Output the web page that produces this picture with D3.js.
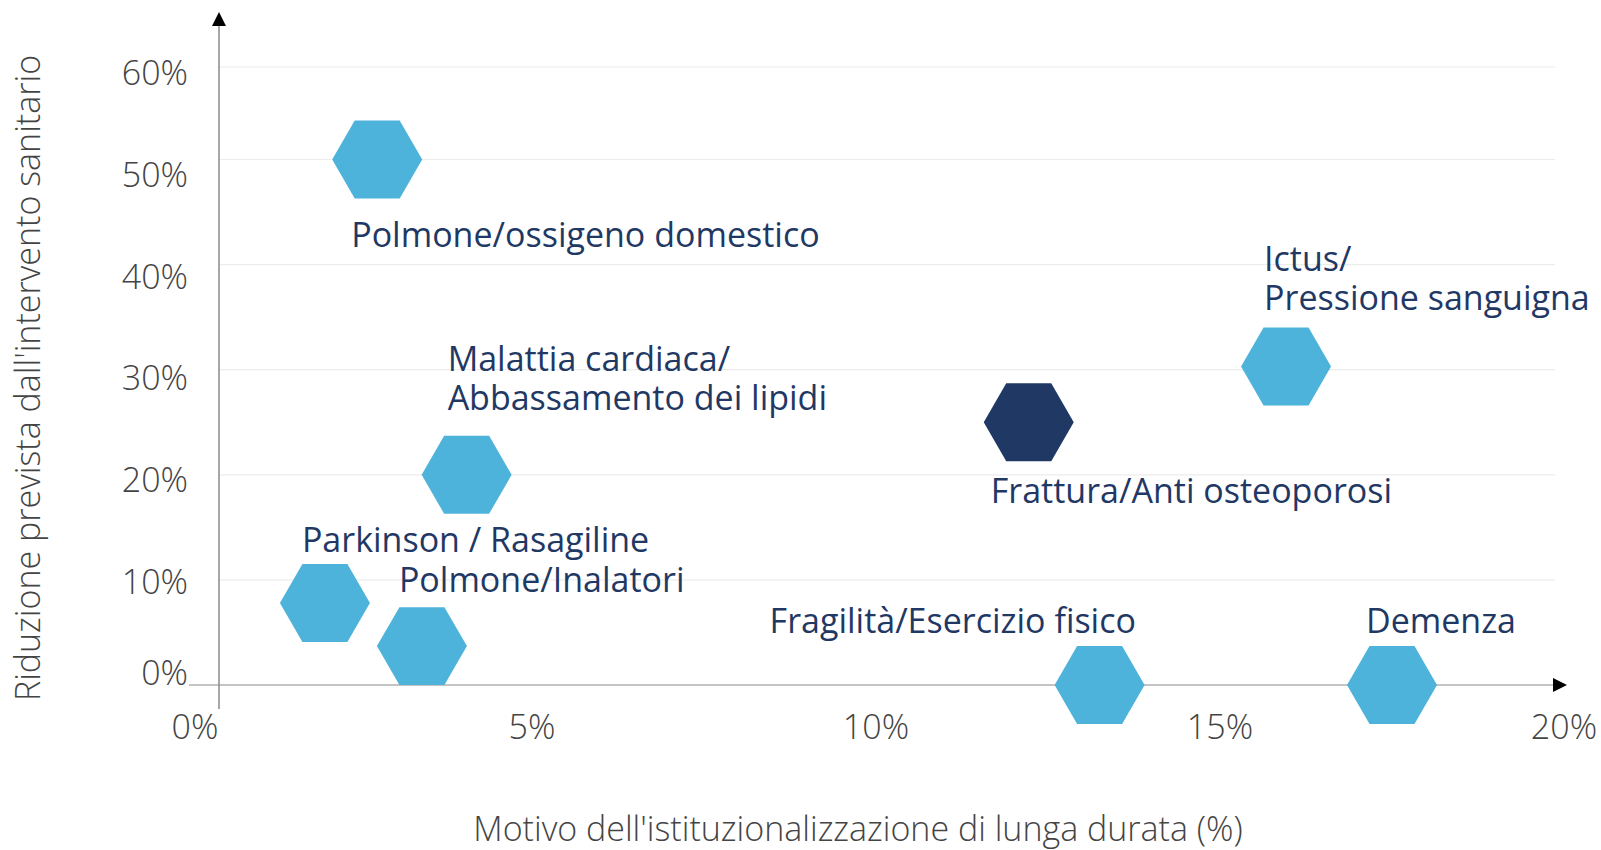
<!DOCTYPE html>
<html>
<head>
<meta charset="utf-8">
<script src="https://cdn.jsdelivr.net/npm/d3@7"></script>
<style>
  html, body { margin: 0; padding: 0; background: #ffffff; }
  svg { display: block; }
</style>
</head>
<body>
<svg id="chart" width="1601" height="850"></svg>
<script>
// ---- Data ----
const categories = [
  "Polmone/ossigeno domestico",
  "Malattia cardiaca/\nAbbassamento dei lipidi",
  "Parkinson / Rasagiline",
  "Polmone/Inalatori",
  "Frattura/Anti osteoporosi",
  "Ictus/\nPressione sanguigna",
  "Fragilità/Esercizio fisico",
  "Demenza"
];
// Motivo dell'istituzionalizzazione di lunga durata (x)
const institutionalisation = [0.0275, 0.0405, 0.0199, 0.0340, 0.1222, 0.1596, 0.1325, 0.1750];
// Riduzione prevista dall'intervento sanitario (y)
const reduction = [0.50, 0.20, 0.078, 0.037, 0.25, 0.303, 0.0, 0.0];
const highlighted = [false, false, false, false, true, false, false, false];

const xTicks = [0, 0.05, 0.10, 0.15, 0.20];
const yTicks = [0, 0.10, 0.20, 0.30, 0.40, 0.50, 0.60];
const xTickLabels = ["0%", "5%", "10%", "15%", "20%"];
const yTickLabels = ["0%", "10%", "20%", "30%", "40%", "50%", "60%"];
const xTitle = "Motivo dell'istituzionalizzazione di lunga durata (%)";
const yTitle = "Riduzione prevista dall'intervento sanitario";

// ---- Layout / style (not data) ----
const labelOffsets = [ // [dx, dy] of the label's first line relative to point
  [-26, 76],
  [-19, -116],
  [-23, -63],
  [-23, -66],
  [-38, 69],
  [-22, -107],
  [-330, -64],
  [-26, -64]
];
const lightBlue = "#4eb3db";
const navy = "#1f3864";
const textNavy = "#1f3864";
const fontFamily = "'Open Sans', 'Noto Sans', sans-serif";
const fontSize = 34;

const svg = d3.select("#chart");

const x = d3.scaleLinear().domain([0, 0.20]).range([188, 1564]);
const y = d3.scaleLinear().domain([0, 0.5, 0.6]).range([685, 159.5, 67]);
const yLabel = d3.scaleLinear().domain([0, 0.1, 0.6]).range([673, 582, 73]);

const axisX = 219;      // position of the vertical axis line
const gridRight = 1555;

// gridlines
svg.append("g").selectAll("line")
  .data(yTicks.filter(t => t > 0))
  .join("line")
  .attr("x1", axisX).attr("x2", gridRight)
  .attr("y1", d => y(d)).attr("y2", d => y(d))
  .attr("stroke", "#ececec").attr("stroke-width", 1.2);

// x axis line + arrow
svg.append("line")
  .attr("x1", 189).attr("x2", 1553)
  .attr("y1", y(0)).attr("y2", y(0))
  .attr("stroke", "#c4c4c4").attr("stroke-width", 2);
svg.append("path")
  .attr("d", `M1553,${y(0) - 7} L1567,${y(0)} L1553,${y(0) + 7} Z`)
  .attr("fill", "#000");

// y axis line + arrow
svg.append("line")
  .attr("x1", axisX).attr("x2", axisX)
  .attr("y1", 709).attr("y2", 25)
  .attr("stroke", "#8a8a8a").attr("stroke-width", 1.5);
svg.append("path")
  .attr("d", `M${axisX - 7},26 L${axisX},12 L${axisX + 7},26 Z`)
  .attr("fill", "#000");

// tick labels
svg.append("g").selectAll("text")
  .data(xTicks)
  .join("text")
  .attr("x", d => x(d) + (d === 0 ? 7 : 0))
  .attr("y", 727)
  .attr("dy", "0.35em")
  .attr("text-anchor", "middle")
  .attr("font-family", fontFamily)
  .attr("font-weight", 300)
  .attr("font-size", fontSize)
  .attr("fill", "#444")
  .text((d, i) => xTickLabels[i]);

svg.append("g").selectAll("text")
  .data(yTicks)
  .join("text")
  .attr("x", 188)
  .attr("y", d => yLabel(d))
  .attr("dy", "0.35em")
  .attr("text-anchor", "end")
  .attr("font-family", fontFamily)
  .attr("font-weight", 300)
  .attr("font-size", fontSize)
  .attr("fill", "#444")
  .text((d, i) => yTickLabels[i]);

// axis titles
svg.append("text")
  .attr("x", 858).attr("y", 829)
  .attr("dy", "0.35em")
  .attr("text-anchor", "middle")
  .attr("font-family", fontFamily)
  .attr("font-weight", 300)
  .attr("font-size", fontSize)
  .attr("fill", "#444")
  .text(xTitle);

svg.append("text")
  .attr("transform", "translate(28,378) rotate(-90)")
  .attr("dy", "0.35em")
  .attr("text-anchor", "middle")
  .attr("font-family", fontFamily)
  .attr("font-weight", 300)
  .attr("font-size", fontSize)
  .attr("fill", "#444")
  .text(yTitle);

// hexagons
const R = 45;
const hexPts = d3.range(6).map(i => [R * Math.cos(i * Math.PI / 3), R * Math.sin(i * Math.PI / 3)]);
const hexPath = d3.line()(hexPts) + "Z";

const points = categories.map((c, i) => ({
  name: c, xv: institutionalisation[i], yv: reduction[i], hi: highlighted[i], off: labelOffsets[i]
}));

svg.append("g").selectAll("path")
  .data(points)
  .join("path")
  .attr("transform", d => `translate(${x(d.xv)},${y(d.yv)})`)
  .attr("d", hexPath)
  .attr("fill", d => d.hi ? navy : lightBlue);

// labels
const lbl = svg.append("g").selectAll("text")
  .data(points)
  .join("text")
  .attr("x", d => x(d.xv) + d.off[0])
  .attr("y", d => y(d.yv) + d.off[1])
  .attr("font-family", fontFamily)
  .attr("font-size", fontSize)
  .attr("fill", textNavy);

lbl.each(function (d) {
  const t = d3.select(this);
  d.name.split("\n").forEach((line, i) => {
    t.append("tspan")
      .attr("x", x(d.xv) + d.off[0])
      .attr("dy", i === 0 ? "0.35em" : 39)
      .text(line);
  });
});
</script>
</body>
</html>
